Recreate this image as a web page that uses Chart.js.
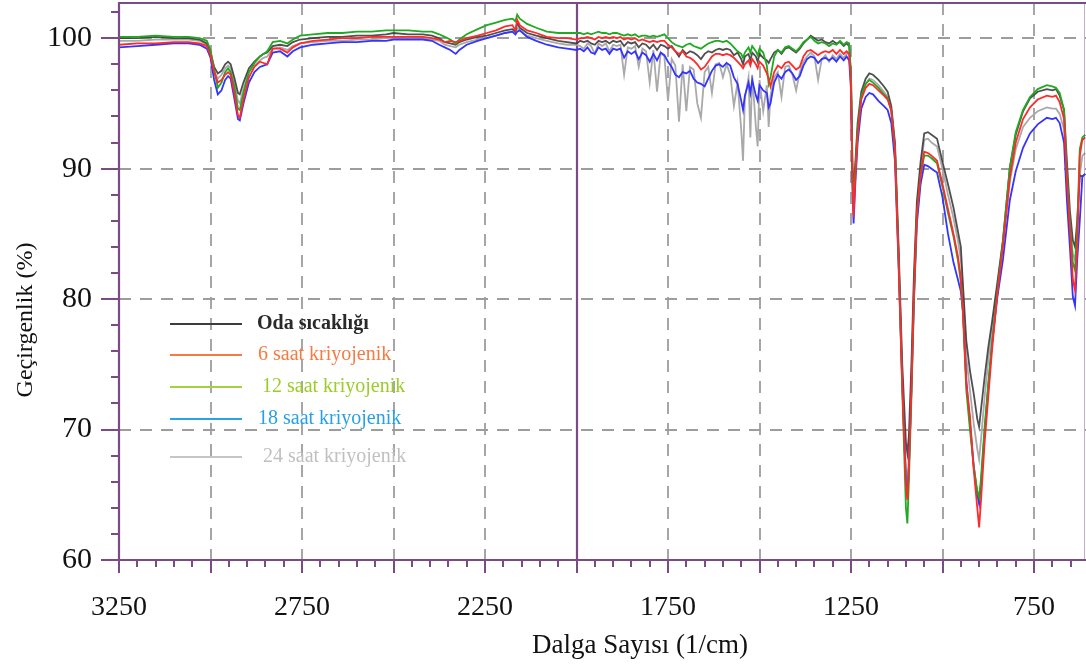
<!DOCTYPE html>
<html>
<head>
<meta charset="utf-8">
<script src="https://cdn.jsdelivr.net/npm/chart.js@4.4.1/dist/chart.umd.min.js"></script>
<style>
  html, body { margin: 0; padding: 0; background: #ffffff; }
  #wrap { width: 1086px; height: 670px; }
</style>
</head>
<body>
<div id="wrap"><canvas id="c" width="1086" height="670"></canvas></div>
<script>
// FTIR transmittance spectra (wavenumber in 1/cm, transmittance in %)
const wavenumbers = [
  3250, 3200, 3150, 3100, 3060, 3030, 3010, 3000, 2990, 2980,
  2970, 2960, 2952, 2945, 2935, 2925, 2920, 2910, 2895, 2880,
  2865, 2855, 2845, 2830, 2810, 2790, 2775, 2755, 2720, 2680,
  2640, 2600, 2560, 2520, 2500, 2460, 2420, 2395, 2375, 2360,
  2345, 2330, 2320, 2300, 2270, 2245, 2220, 2195, 2175, 2167,
  2162, 2155, 2135, 2110, 2081, 2050, 2026, 2000,
  1990, 1980, 1970, 1960, 1950, 1940, 1930, 1920, 1910, 1900,
  1890, 1880, 1870, 1860, 1850, 1840, 1830, 1820, 1810, 1800,
  1790, 1780, 1770, 1760, 1750, 1740, 1730, 1720, 1710, 1700,
  1690, 1680, 1670, 1660, 1650, 1640, 1630, 1620, 1610, 1600,
  1590, 1580, 1570, 1560, 1550, 1545, 1540, 1530, 1525, 1520,
  1510, 1505, 1500, 1490, 1480, 1475, 1470, 1460, 1450, 1440,
  1430, 1420, 1410, 1400, 1390, 1380, 1370, 1360, 1350, 1340,
  1330, 1320, 1310, 1300, 1290, 1280, 1270, 1262,
  1255, 1250, 1246, 1243, 1238, 1232, 1222, 1210, 1200, 1190,
  1175, 1160, 1150, 1140, 1130, 1120, 1110, 1100, 1096, 1092,
  1085, 1078, 1070, 1060, 1050, 1040, 1030, 1015, 1000, 985,
  970, 958, 950, 944, 935, 925, 915, 905, 900, 895,
  885, 875, 865, 850, 835, 816, 800, 780, 761, 740,
  715, 700, 690, 680, 668, 660, 652, 644, 638, 632,
  625, 618, 610
];

const odaSicakligi = [
  100.0, 100.0, 100.1, 100.0, 100.0, 99.9, 99.6, 98.9, 97.8, 97.3,
  97.5, 98.0, 98.2, 98.0, 97.0, 95.8, 95.7, 96.6, 97.7, 98.2,
  98.6, 98.8, 98.9, 99.4, 99.5, 99.4, 99.7, 99.9, 100.0, 100.1,
  100.1, 100.2, 100.2, 100.3, 100.4, 100.3, 100.3, 100.2, 100.0, 99.7,
  99.6, 99.5, 99.7, 99.9, 100.1, 100.2, 100.4, 100.6, 100.7, 100.5,
  101.2, 100.8, 100.4, 100.2, 100.0, 99.8, 99.7, 99.6,
  99.8, 99.7, 99.8, 99.6, 99.5, 99.8, 99.7, 99.8, 99.6, 99.8,
  99.7, 99.8, 99.4, 99.7, 99.6, 99.7, 99.3, 99.6, 99.5, 99.2,
  99.5, 99.1, 99.5, 99.4, 99.2, 99.4, 99.0, 98.6, 99.1, 98.8,
  99.0, 98.9, 98.7, 98.4, 98.8, 99.0, 98.9, 99.1, 99.2, 99.1,
  99.2, 99.1, 98.7, 98.9, 98.4, 98.0, 98.6, 98.8, 98.3, 98.9,
  98.6, 98.2, 98.8, 98.5, 98.3, 98.1, 98.4, 98.9, 99.1, 98.8,
  99.2, 99.3, 99.1, 98.9, 99.2, 99.6, 99.9, 100.2, 100.0, 99.8,
  99.9, 99.7, 99.6, 99.8, 99.6, 99.7, 99.4, 99.6,
  99.4, 97.0, 90.0, 88.6, 90.5, 93.5, 95.9, 96.9, 97.3, 97.2,
  96.8, 96.3, 95.9, 94.8, 92.0, 84.0, 75.0, 69.0, 68.2, 69.5,
  75.0, 82.0, 87.5, 90.5, 92.7, 92.8, 92.6, 92.3, 90.5, 88.8,
  87.0, 85.2, 84.0, 81.0, 76.8, 74.5, 72.8, 70.8, 70.2, 71.5,
  74.0, 76.3, 78.2, 81.3, 84.5, 90.1, 92.6, 94.4, 95.4, 95.9,
  96.1, 96.0, 96.1, 95.6, 94.5, 90.5, 86.8, 84.5, 84.0, 86.0,
  89.5, 89.4, 89.6
];

const saat6 = [
  99.5, 99.6, 99.6, 99.7, 99.7, 99.6, 99.4, 98.7, 97.4, 96.6,
  96.8, 97.2, 97.4, 97.2, 95.8, 94.1, 93.9, 95.3, 97.0, 97.8,
  98.2, 98.1, 98.0, 99.2, 99.2, 98.9, 99.3, 99.6, 99.8, 99.9,
  100.0, 100.0, 100.1, 100.1, 100.1, 100.1, 100.1, 100.0, 99.9, 99.7,
  99.8, 99.7, 99.8, 100.0, 100.2, 100.4, 100.6, 100.9, 101.0, 100.6,
  101.4, 101.0, 100.6, 100.4, 100.1, 100.0, 100.0, 99.9,
  100.0, 100.0, 100.1, 100.0, 99.9, 100.1, 100.0, 100.1, 100.0, 100.1,
  100.0, 100.1, 99.9, 100.0, 99.9, 100.0, 99.8, 99.9, 99.8, 99.7,
  99.8, 99.7, 99.8, 99.8, 99.5, 99.3, 99.0, 98.8, 99.0, 98.6,
  98.5, 98.3, 98.0, 97.6, 97.8, 98.2, 98.6, 98.8, 98.8, 98.7,
  98.8, 98.7, 98.5, 98.2, 97.9, 97.7, 98.0, 98.3, 97.9, 98.4,
  98.0, 97.7, 98.2, 97.9, 97.3, 96.9, 96.3, 97.4, 97.9, 97.7,
  98.1, 98.2, 97.9, 97.6, 97.8, 98.6, 99.0, 99.1, 98.9, 98.7,
  98.9, 99.0, 98.9, 99.1, 98.8, 99.1, 98.8, 99.0,
  98.8, 96.5, 89.0, 86.3, 89.5, 92.5, 95.3, 96.2, 96.5, 96.4,
  96.0, 95.6, 95.3, 94.5, 91.5, 83.0, 73.5, 65.8, 64.6, 67.0,
  73.0, 80.5, 86.5, 89.5, 91.3, 91.2, 91.0, 90.6, 88.8, 86.9,
  85.0, 83.3, 81.6, 79.0, 73.5, 71.0, 67.0, 64.0, 62.5, 64.5,
  69.0, 72.5, 76.0, 80.5, 84.0, 89.3, 92.0, 93.8, 94.7, 95.3,
  95.6, 95.5, 95.6, 95.1, 93.8, 89.0, 85.5, 81.5, 80.7, 84.0,
  91.0, 92.2, 92.4
];

const saat12 = [
  100.1, 100.1, 100.2, 100.1, 100.1, 100.0, 99.8, 99.1, 97.6, 96.2,
  96.6, 97.4, 97.7, 97.4, 96.3, 94.6, 94.5, 95.8, 97.4, 98.1,
  98.6, 98.8, 99.0, 99.7, 99.8, 99.6, 99.9, 100.2, 100.3, 100.4,
  100.4, 100.5, 100.5, 100.6, 100.6, 100.6, 100.5, 100.5, 100.3, 100.1,
  99.9, 99.6, 99.9, 100.3, 100.7, 101.0, 101.2, 101.4, 101.5, 101.3,
  101.8, 101.5, 101.1, 100.8, 100.5, 100.4, 100.4, 100.4,
  100.4, 100.3, 100.4, 100.3, 100.4, 100.5, 100.4, 100.4, 100.3, 100.4,
  100.4, 100.3, 100.2, 100.3, 100.2, 100.3, 100.1, 100.2, 100.2, 100.1,
  100.2, 100.1, 100.2, 100.3, 100.0, 99.7, 99.5, 99.4, 99.3, 99.5,
  99.6, 99.4, 99.3, 99.2, 99.4, 99.6, 99.7, 99.8, 99.8, 99.7,
  99.8, 99.6, 99.3, 99.0, 98.8, 98.5, 98.9, 99.3, 98.9, 99.4,
  99.0, 98.7, 99.2, 98.9, 97.9, 96.5, 97.0, 98.6, 99.1, 98.9,
  99.3, 99.4, 99.2, 99.0, 99.3, 99.7, 99.9, 100.1, 99.8, 99.6,
  99.7, 99.6, 99.4, 99.6, 99.5, 99.8, 99.5, 99.7,
  99.6, 97.3, 90.0, 87.5, 90.0, 93.0, 95.6, 96.5, 96.8, 96.6,
  96.2, 95.7, 95.4, 94.4, 91.5, 83.0, 73.0, 64.0, 62.8, 66.0,
  72.5, 80.0, 86.5, 89.5, 91.0, 91.0, 90.8, 90.4, 88.6, 86.6,
  84.8, 83.0, 81.3, 78.8, 73.0, 70.0, 67.2, 65.3, 64.8, 66.2,
  70.2, 73.5, 76.5, 80.6, 84.4, 90.1, 92.8, 94.5, 95.5, 96.1,
  96.4, 96.3, 96.2, 95.8, 94.5, 89.5, 86.0, 82.8, 82.2, 85.5,
  91.5, 92.4, 92.6
];

const saat18 = [
  99.3, 99.4, 99.5, 99.6, 99.6, 99.5, 99.2, 98.5, 96.8, 95.7,
  96.0, 96.8, 97.1, 96.9, 95.4, 93.8, 93.7, 95.0, 96.6, 97.4,
  97.8, 97.9, 98.0, 98.9, 99.0, 98.6, 99.0, 99.3, 99.5, 99.6,
  99.7, 99.7, 99.8, 99.8, 99.9, 99.9, 99.9, 99.8, 99.5, 99.3,
  99.1, 98.8, 99.1, 99.5, 99.8, 100.0, 100.2, 100.4, 100.5, 100.3,
  100.5, 100.6, 100.1, 99.8, 99.5, 99.3, 99.2, 99.1,
  99.2, 99.0, 99.3, 98.9, 98.8, 99.3, 99.1, 99.2, 98.8, 99.2,
  99.1, 99.2, 98.5, 99.0, 98.8, 99.0, 98.4, 98.9, 98.7, 98.2,
  98.8, 98.3, 98.9, 98.7, 98.2, 97.8, 97.2, 97.0, 97.4, 97.3,
  97.5, 96.9, 96.6, 96.5, 96.3, 96.9, 97.5, 97.9, 98.0, 97.8,
  98.1, 97.9, 97.0, 96.5, 95.2, 94.5, 95.6, 96.6, 95.8, 96.8,
  95.6, 95.2, 96.4, 96.0, 95.8, 94.7, 95.0, 96.6, 97.2, 96.9,
  97.4, 97.6, 97.3, 96.8, 97.1, 97.9, 98.4, 98.6, 98.5, 98.1,
  98.4, 98.5, 98.3, 98.5, 98.2, 98.6, 98.3, 98.6,
  98.3, 96.0, 88.5, 85.8, 89.0, 92.0, 94.6, 95.5, 95.8, 95.7,
  95.2, 94.8, 94.5, 93.5, 90.6, 82.5, 73.5, 66.0, 64.8, 67.0,
  73.0, 80.0, 85.8, 88.8, 90.3, 90.2, 90.0, 89.7, 87.8, 85.0,
  82.8, 81.5, 80.6, 79.0, 73.8, 70.5, 67.3, 65.0, 64.3, 65.8,
  69.8, 73.3, 76.5, 80.2, 83.0, 87.6, 89.8, 91.6, 92.7, 93.4,
  93.9, 93.8, 93.9, 93.5, 92.0, 87.5, 84.0, 80.2, 79.5, 83.0,
  86.0, 89.4, 89.6
];

const saat24 = [
  99.8, 99.8, 99.9, 99.9, 99.9, 99.8, 99.5, 98.8, 97.5, 96.9,
  97.2, 97.7, 97.9, 97.7, 96.6, 95.2, 95.0, 96.1, 97.4, 97.9,
  98.3, 98.5, 98.6, 99.2, 99.3, 99.1, 99.4, 99.6, 99.7, 99.8,
  99.8, 99.9, 99.9, 100.0, 100.0, 100.0, 100.0, 99.9, 99.8, 99.5,
  99.4, 99.3, 99.5, 99.7, 99.9, 100.0, 100.2, 100.4, 100.5, 100.3,
  100.8, 100.6, 100.2, 100.0, 99.8, 99.6, 99.5, 99.5,
  99.4, 99.2, 99.6, 99.4, 98.8, 99.6, 99.4, 99.6, 99.0, 99.5,
  99.4, 99.5, 97.2, 99.3, 99.2, 99.4, 97.8, 99.2, 99.0, 96.6,
  99.1, 95.9, 98.9, 98.6, 95.2, 98.4, 97.9, 93.6, 98.0, 94.4,
  97.8, 97.6, 95.0, 93.9, 97.4, 97.8, 95.8, 98.0, 98.1, 97.0,
  98.0, 97.2, 94.8, 96.6, 93.0, 90.6, 95.4, 97.0, 92.4, 97.2,
  93.2, 91.7, 96.8, 94.4, 96.4, 93.2, 95.6, 97.0, 97.4, 95.5,
  97.8, 97.9, 97.2, 96.0, 97.4, 98.2, 98.6, 98.9, 98.6, 96.8,
  98.4, 98.7, 98.2, 98.7, 98.4, 98.8, 98.5, 98.8,
  98.8, 96.5, 89.5, 87.5, 90.0, 93.0, 95.6, 96.5, 96.9, 96.8,
  96.4, 95.9, 95.5, 94.5, 91.8, 83.5, 74.0, 67.0, 66.0, 68.0,
  74.0, 81.0, 87.0, 90.0, 92.2, 92.3, 92.0, 91.7, 90.0, 88.0,
  86.2, 84.5, 83.0, 80.5, 75.5, 73.0, 70.5, 68.5, 67.7, 69.2,
  72.5, 75.3, 77.7, 81.0, 84.3, 89.0, 91.5, 93.2, 93.9, 94.4,
  94.7, 94.6, 94.6, 94.2, 93.0, 89.0, 85.8, 83.5, 83.0, 85.5,
  89.5, 91.0, 91.2
];

const seriesNames = ['Oda sıcaklığı', '6 saat kriyojenik', '12 saat kriyojenik', '18 saat kriyojenik', '24 saat kriyojenik'];
const xTickLabels = [3250, 2750, 2250, 1750, 1250, 750];
const yTickLabels = [60, 70, 80, 90, 100];

// ---- styling ----
const SERIF = "'Liberation Serif', 'Times New Roman', serif";
const AXIS_COLOR = '#7b4b86';
const GRID_COLOR = '#9d9d9d';
const lineColors = ['rgba(60,60,60,0.9)', '#ff2a2a', '#1faa1f', '#3434ff', '#a9a9a9'];
const legendColors = ['#3c3c3c', '#f47b42', '#a2d23c', '#2aa2e6', '#c6c6c6'];
const legendTextColors = ['#2a2a2a', '#f47b42', '#9ccb2c', '#2aa0e4', '#c0c0c0'];
const drawOrder = [3, 0, 1, 2, 4];

const toPoints = ys => wavenumbers.map((x, i) => ({ x: x, y: ys[i] }));
const seriesValues = [odaSicakligi, saat6, saat12, saat18, saat24];

const datasets = seriesValues.map((ys, i) => ({
  label: seriesNames[i],
  data: toPoints(ys),
  borderColor: lineColors[i],
  borderWidth: 1.8,
  pointRadius: 0,
  tension: 0,
  fill: false,
  order: drawOrder[i]
}));

const framePlugin = {
  id: 'frame',
  beforeDatasetsDraw(chart) {
    const { ctx, chartArea: a, scales: { x, y } } = chart;
    ctx.save();
    ctx.strokeStyle = GRID_COLOR;
    ctx.lineWidth = 1.8;
    ctx.setLineDash([12, 9]);
    for (let v = 3000; v >= x.min; v -= 250) {
      if (v === 2000) continue;
      const px = Math.round(x.getPixelForValue(v));
      ctx.beginPath(); ctx.moveTo(px, a.top); ctx.lineTo(px, a.bottom); ctx.stroke();
    }
    for (let v = 70; v <= 100; v += 10) {
      const py = Math.round(y.getPixelForValue(v));
      ctx.beginPath(); ctx.moveTo(a.left, py); ctx.lineTo(a.right, py); ctx.stroke();
    }
    ctx.setLineDash([]);
    ctx.strokeStyle = AXIS_COLOR;
    ctx.lineWidth = 2.2;
    const p2000 = Math.round(x.getPixelForValue(2000));
    ctx.beginPath(); ctx.moveTo(p2000, a.top); ctx.lineTo(p2000, a.bottom); ctx.stroke();
    ctx.restore();
  },
  afterDatasetsDraw(chart) {
    const { ctx, chartArea: a, scales: { x, y } } = chart;
    ctx.save();
    ctx.strokeStyle = AXIS_COLOR;
    ctx.lineWidth = 2.2;
    // frame lines
    ctx.beginPath();
    ctx.moveTo(a.left, a.bottom); ctx.lineTo(a.left, a.top); ctx.lineTo(a.right, a.top);
    ctx.moveTo(a.left, a.bottom); ctx.lineTo(a.right, a.bottom);
    ctx.stroke();
    ctx.strokeStyle = 'rgba(123,75,134,0.45)';
    ctx.lineWidth = 1;
    ctx.beginPath(); ctx.moveTo(a.right - 1.5, a.top); ctx.lineTo(a.right - 1.5, a.bottom); ctx.stroke();
    // y tick marks
    ctx.strokeStyle = AXIS_COLOR;
    ctx.lineWidth = 2;
    for (let v = 60; v <= y.max; v += 2) {
      const py = Math.round(y.getPixelForValue(v));
      const len = (v % 10 === 0) ? 18 : 8;
      ctx.beginPath(); ctx.moveTo(a.left - len, py); ctx.lineTo(a.left, py); ctx.stroke();
    }
    // x tick marks
    for (let v = 3250; v >= x.min; v -= 50) {
      const px = Math.round(x.getPixelForValue(v));
      const len = ((3250 - v) % 250 === 0) ? 13 : 7;
      ctx.beginPath(); ctx.moveTo(px, a.bottom); ctx.lineTo(px, a.bottom + len); ctx.stroke();
    }
    // tick labels
    ctx.fillStyle = '#111111';
    ctx.textBaseline = 'middle';
    ctx.textAlign = 'center';
    ctx.font = '28px ' + SERIF;
    xTickLabels.forEach(v => ctx.fillText(String(v), x.getPixelForValue(v), a.bottom + 48));
    ctx.textAlign = 'right';
    ctx.font = '30px ' + SERIF;
    yTickLabels.forEach(v => ctx.fillText(String(v), a.left - 27, y.getPixelForValue(v)));
    // legend
    const rows = [324, 355, 387, 419, 457];
    const textX = [257, 258, 262, 258, 263];
    for (let i = 0; i < seriesNames.length; i++) {
      ctx.strokeStyle = legendColors[i];
      ctx.lineWidth = 2;
      ctx.beginPath(); ctx.moveTo(170, rows[i]); ctx.lineTo(242, rows[i]); ctx.stroke();
      ctx.fillStyle = legendTextColors[i];
      ctx.font = (i === 0 ? 'bold ' : '') + '20px ' + SERIF;
      ctx.textAlign = 'left';
      ctx.textBaseline = 'middle';
      ctx.fillText(seriesNames[i], textX[i], rows[i]);
    }
    // axis titles
    ctx.fillStyle = '#111111';
    ctx.font = '27px ' + SERIF;
    ctx.textAlign = 'center';
    ctx.textBaseline = 'middle';
    ctx.fillText('Dalga Sayısı (1/cm)', 640, 646);
    ctx.translate(26, 320);
    ctx.rotate(-Math.PI / 2);
    ctx.font = '24px ' + SERIF;
    ctx.fillText('Geçirgenlik (%)', 0, 0);
    ctx.restore();
  }
};

new Chart(document.getElementById('c'), {
  type: 'line',
  data: { datasets: datasets },
  options: {
    responsive: false,
    animation: false,
    devicePixelRatio: 1,
    layout: { padding: { top: 3, right: 0, bottom: 0, left: 0 }, autoPadding: false },
    plugins: { legend: { display: false }, tooltip: { enabled: false } },
    scales: {
      x: {
        type: 'linear',
        reverse: true,
        min: 608,
        max: 3250,
        grid: { display: false, drawTicks: false },
        border: { display: false },
        afterBuildTicks: s => { s.ticks = xTickLabels.map(v => ({ value: v })); },
        afterFit: s => { s.height = 110; },
        ticks: { display: false }
      },
      y: {
        min: 60,
        max: 102.7,
        grid: { display: false, drawTicks: false },
        border: { display: false },
        afterBuildTicks: s => { s.ticks = yTickLabels.map(v => ({ value: v })); },
        afterFit: s => { s.width = 119; },
        ticks: { display: false }
      }
    }
  },
  plugins: [framePlugin]
});
</script>
</body>
</html>
